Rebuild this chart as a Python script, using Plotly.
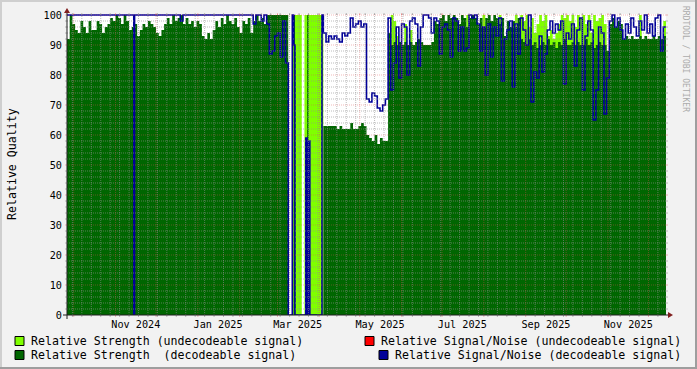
import pandas as pd
import plotly.graph_objects as go

# ---------------- data ----------------
# sample start times (RRD consolidated steps)
times = (list(pd.date_range("2024-09-26", periods=25, freq="2D"))
         + list(pd.to_datetime(["2024-11-14 12:00", "2024-11-15 02:00"]))
         + list(pd.date_range("2024-11-17", periods=56, freq="2D"))
         + list(pd.date_range("2025-03-09", periods=26, freq="D"))
         + list(pd.date_range("2025-04-04", periods=127, freq="2D")))
end_time = pd.Timestamp("2025-12-14")

# Relative Strength (decodeable signal)
strength_dec = [
    92, 100, 97, 95, 94, 98, 96, 94, 98, 95, 95, 98, 97, 94, 96, 97, 99, 98, 100, 99, 97, 100, 98, 95, 96,
    0, 97,
    93, 95, 97, 96, 98, 97, 96, 94, 93, 95, 97, 99, 97, 100, 98, 99, 100, 97, 99, 97,
    98, 96, 98, 97, 93, 92, 94, 92, 95, 98, 96, 99, 97, 100, 98, 97, 99, 96, 94, 98,
    97, 99, 94, 98, 100, 98, 99, 97, 100, 100, 100, 100, 100, 100, 100, 100,
    0, 0, 0, 0, 100, 0, 0, 0, 0, 0, 0, 0, 0, 0, 100, 0, 0, 0, 0, 0, 0, 0, 0, 0, 0, 0,
    63, 63, 63, 63, 63, 62, 63, 62, 62, 62, 64, 62, 62, 63, 64, 63, 60, 59, 58, 60, 57, 59, 58, 58,
    94, 90, 91, 90, 91, 90, 91, 90, 91, 90, 91, 92, 91, 90, 90, 90, 91, 98, 97, 99,
    100, 98, 100, 99, 100, 99, 97, 100, 99, 96, 99, 100, 99, 97, 99, 96, 99, 100, 98, 100,
    99, 97, 99, 93, 98, 96, 98, 96, 99, 92, 91, 90, 92, 90, 91, 89, 90, 91, 90, 92,
    90, 91, 89, 91, 90, 92, 90, 90, 91, 90, 91, 90, 90, 92, 90, 91, 89, 90, 91, 90,
    90, 88, 97, 99, 96, 98, 97, 92, 93, 92, 93, 92, 92, 93, 92, 93, 92, 92, 93, 92,
    93, 92, 93,
]

# Relative Strength (undecodeable signal)
strength_undec = [
    0, 0, 0, 0, 0, 0, 0, 0, 0, 0, 0, 0, 0, 0, 0, 0, 0, 0, 0, 0, 0, 0, 0, 0, 0,
    0, 0,
    0, 0, 0, 0, 0, 0, 0, 0, 0, 0, 0, 0, 0, 0, 0, 0, 0, 0, 0, 0,
    0, 0, 0, 0, 0, 0, 0, 0, 0, 0, 0, 0, 0, 0, 0, 0, 0, 0, 0, 0,
    0, 0, 0, 0, 0, 0, 0, 0, 0, 0, 0, 0, 0, 0, 0, 0,
    0, 0, 0, 100, 100, 100, 100, 100, 100, 100, 0, 0, 100, 100, 100, 100, 100, 100, 100, 100, 100, 100, 100, 100, 100, 100,
    0, 0, 0, 0, 0, 0, 0, 0, 0, 0, 0, 0, 0, 0, 0, 0, 0, 0, 0, 0, 0, 0, 0, 0,
    0, 100, 98, 93, 0, 0, 97, 0, 95, 0, 0, 0, 0, 0, 0, 0, 0, 0, 0, 0,
    0, 0, 0, 0, 0, 0, 0, 0, 0, 100, 0, 0, 0, 0, 0, 100, 0, 0, 0, 0,
    0, 100, 0, 0, 0, 0, 0, 100, 0, 100, 98, 100, 96, 99, 94, 97, 100, 98, 100, 93,
    95, 92, 94, 97, 100, 99, 100, 98, 100, 96, 100, 99, 100, 97, 100, 94, 100, 98, 99, 100,
    97, 0, 0, 0, 0, 0, 0, 0, 0, 0, 0, 0, 0, 100, 0, 0, 0, 0, 0, 0,
    0, 0, 98,
]

# Relative Signal/Noise (decodeable signal)
snr_dec = [
    100, 100, 100, 100, 100, 100, 100, 100, 100, 100, 100, 100, 100, 100, 100, 100, 100, 100, 100, 100, 100, 100, 100, 100, 100,
    0, 100,
    100, 100, 100, 100, 100, 100, 100, 100, 100, 100, 100, 100, 100, 100, 100, 100, 98, 100, 100, 100,
    100, 100, 100, 100, 100, 100, 100, 100, 100, 100, 100, 100, 100, 100, 100, 100, 100, 100, 100, 100,
    100, 100, 100, 97, 100, 100, 98, 100, 97, 87, 88, 93, 94, 86, 98, 84,
    0, 0, 0, 100, 90, 0, 0, 0, 0, 0, 0, 0, 0, 59, 0, 58, 0, 0, 0, 0, 0, 0, 0, 0, 0, 100,
    94, 91, 93, 92, 93, 92, 91, 94, 93, 94, 99, 96, 97, 98, 96, 97, 72, 71, 74, 73, 69, 68, 70, 72,
    99, 75, 84, 96, 79, 97, 96, 80, 98, 99, 97, 83, 96, 100, 100, 99, 94, 99, 98, 87,
    96, 97, 95, 86, 99, 98, 88, 96, 88, 89, 100, 99, 100, 97, 88, 96, 80, 97, 86, 96,
    93, 99, 78, 92, 95, 98, 76, 97, 87, 99, 95, 90, 100, 71, 81, 79, 93, 81, 87, 95,
    98, 94, 97, 95, 98, 77, 94, 92, 97, 83, 95, 99, 75, 93, 98, 95, 65, 75, 96, 94,
    67, 79, 98, 100, 96, 99, 95, 92, 97, 94, 99, 96, 93, 98, 95, 100, 94, 97, 93, 99,
    100, 88, 96,
]

x_labels = ["2024-11-16", "2025-01-16", "2025-03-16", "2025-05-16", "2025-07-16", "2025-09-16", "2025-11-16"]
x_text = ["Nov 2024", "Jan 2025", "Mar 2025", "May 2025", "Jul 2025", "Sep 2025", "Nov 2025"]
y_ticks = [0, 10, 20, 30, 40, 50, 60, 70, 80, 90, 100]

legend_items = [
    ("Relative Strength (undecodeable signal)", "#80FF00"),
    ("Relative Signal/Noise (undecodeable signal)", "#FF0000"),
    ("Relative Strength\u00a0 (decodeable signal)", "#006600"),
    ("Relative Signal/Noise (decodeable signal)", "#000099"),
]

# ---------------- style ----------------
W, H = 697, 369
L_, R_, T_, B_ = 67, 666, 14, 315
PW, PH = R_ - L_, B_ - T_
FONT = "DejaVu Sans Mono"
LIGHT, DARK, BLUE = "#80FF00", "#006600", "#000099"
GRID = "rgba(143,143,143,0.6)"
MGRID = "rgba(222,79,79,0.4)"
X0, X1 = pd.Timestamp("2024-09-26"), end_time


def px_x(px):
    return (px - L_) / PW


def px_y(py):
    return (B_ - py) / PH


def closed(v):
    return list(v) + [v[-1]]


xs = times + [end_time]
fig = go.Figure()
fig.add_trace(go.Scatter(x=xs, y=closed(strength_undec), mode="lines",
                         line=dict(width=0, shape="hv", color=LIGHT),
                         fill="tozeroy", fillcolor=LIGHT, hoverinfo="skip"))
fig.add_trace(go.Scatter(x=xs, y=closed(strength_dec), mode="lines",
                         line=dict(width=0, shape="hv", color=DARK),
                         fill="tozeroy", fillcolor=DARK, hoverinfo="skip"))
fig.add_trace(go.Scatter(x=xs, y=closed(snr_dec), mode="lines",
                         line=dict(width=1.6, shape="hv", color=BLUE), hoverinfo="skip"))

# grid (drawn above data, like rrdtool)
months = list(pd.date_range("2024-10-01", "2025-12-01", freq="MS"))
weeks = [d for d in pd.date_range("2024-09-30", "2025-12-14", freq="7D") if d not in months]
minor_y = [v for v in range(2, 100, 2) if v % 10]
major_y = list(range(10, 101, 10))


def grid_xy(vlines, hlines):
    gx, gy = [], []
    for d in vlines:
        gx += [d, d, None]
        gy += [0, 100.4, None]
    for v in hlines:
        gx += [X0, X1, None]
        gy += [v, v, None]
    return gx, gy


for vl, hl, col in ((weeks, minor_y, GRID), (months, major_y, MGRID)):
    gx, gy = grid_xy(vl, hl)
    fig.add_trace(go.Scatter(x=gx, y=gy, mode="lines", hoverinfo="skip",
                             line=dict(color=col, width=1, dash="1px,1px")))

shapes = []
# small tick marks outside the plot
for lst, col in ((weeks, GRID), (months, MGRID)):
    for d in lst:
        shapes.append(dict(type="line", xref="x", yref="paper", x0=d, x1=d,
                           y0=px_y(317), y1=px_y(315), line=dict(color=col, width=1)))
        shapes.append(dict(type="line", xref="x", yref="paper", x0=d, x1=d,
                           y0=px_y(15), y1=px_y(13), line=dict(color=col, width=1)))
for lst, col in ((minor_y, GRID), (major_y, MGRID)):
    for v in lst:
        shapes.append(dict(type="line", xref="paper", yref="y", x0=px_x(65), x1=px_x(67),
                           y0=v, y1=v, line=dict(color=col, width=1)))
        shapes.append(dict(type="line", xref="paper", yref="y", x0=px_x(666), x1=px_x(668),
                           y0=v, y1=v, line=dict(color=col, width=1)))
# axes
shapes.append(dict(type="line", xref="paper", yref="paper", x0=px_x(63), x1=px_x(670),
                   y0=px_y(315), y1=px_y(315), line=dict(color="#1F1F1F", width=1)))
shapes.append(dict(type="line", xref="paper", yref="paper", x0=px_x(67), x1=px_x(67),
                   y0=px_y(319), y1=px_y(11), line=dict(color="#1F1F1F", width=1)))
# arrows
shapes.append(dict(type="path", xref="paper", yref="paper",
                   path=f"M {px_x(668)},{px_y(312)} L {px_x(668)},{px_y(318)} L {px_x(673)},{px_y(315)} Z",
                   fillcolor="#801F1F", line=dict(width=0)))
shapes.append(dict(type="path", xref="paper", yref="paper",
                   path=f"M {px_x(64)},{px_y(13)} L {px_x(70)},{px_y(13)} L {px_x(67)},{px_y(8)} Z",
                   fillcolor="#801F1F", line=dict(width=0)))
# 3D frame
for (a, b, c, d_, col) in ((0, 0, W, 2, "#CFCFCF"), (0, 0, 2, H, "#CFCFCF"),
                            (0, H - 2, W, H, "#9E9E9E"), (W - 2, 0, W, H, "#9E9E9E")):
    shapes.append(dict(type="rect", xref="paper", yref="paper", x0=px_x(a), x1=px_x(c),
                       y0=px_y(d_), y1=px_y(b), fillcolor=col, line=dict(width=0), layer="above"))

annotations = []
# legend
leg_pos = [(15, 341, 30), (365, 341, 380), (15, 355, 30), (379, 355, 394)]
for (sx, cy, tx), (label, col) in zip(leg_pos, legend_items):
    shapes.append(dict(type="rect", xref="paper", yref="paper", x0=px_x(sx), x1=px_x(sx + 9),
                       y0=px_y(cy + 4.5), y1=px_y(cy - 4.5), fillcolor=col,
                       line=dict(color="#000000", width=1)))
    annotations.append(dict(xref="paper", yref="paper", x=px_x(tx - 1), y=px_y(cy),
                            xanchor="left", yanchor="middle", text=label, showarrow=False,
                            font=dict(family=FONT, size=11.6, color="#000000")))
annotations.append(dict(xref="paper", yref="paper", x=px_x(12), y=px_y(164), text="Relative Quality",
                        textangle=-90, showarrow=False, xanchor="center", yanchor="middle",
                        font=dict(family=FONT, size=11.6, color="#000000")))
annotations.append(dict(xref="paper", yref="paper", x=px_x(686), y=px_y(4), text="RRDTOOL / TOBI OETIKER",
                        textangle=90, showarrow=False, xanchor="center", yanchor="top",
                        font=dict(family=FONT, size=8, color="#ABABAB")))

fig.update_layout(
    width=W, height=H, showlegend=False, hovermode=False,
    margin=dict(l=L_, r=W - R_, t=T_, b=H - B_, pad=0),
    paper_bgcolor="#F2F2F2", plot_bgcolor="#FFFFFF",
    xaxis=dict(type="date", range=[X0, X1], showgrid=False, zeroline=False, showline=False,
               tickmode="array", tickvals=x_labels, ticktext=x_text, ticks="",
               tickfont=dict(family=FONT, size=10.2, color="#000000"), automargin=False,
               ticklabelstandoff=2),
    yaxis=dict(range=[0, 100.333], showgrid=False, zeroline=False, showline=False,
               tickmode="array", tickvals=y_ticks, ticktext=[str(v) for v in y_ticks], ticks="",
               tickfont=dict(family=FONT, size=10.2, color="#000000"), automargin=False,
               ticklabelstandoff=4),
    shapes=shapes, annotations=annotations,
)

fig.write_html("out.html")
